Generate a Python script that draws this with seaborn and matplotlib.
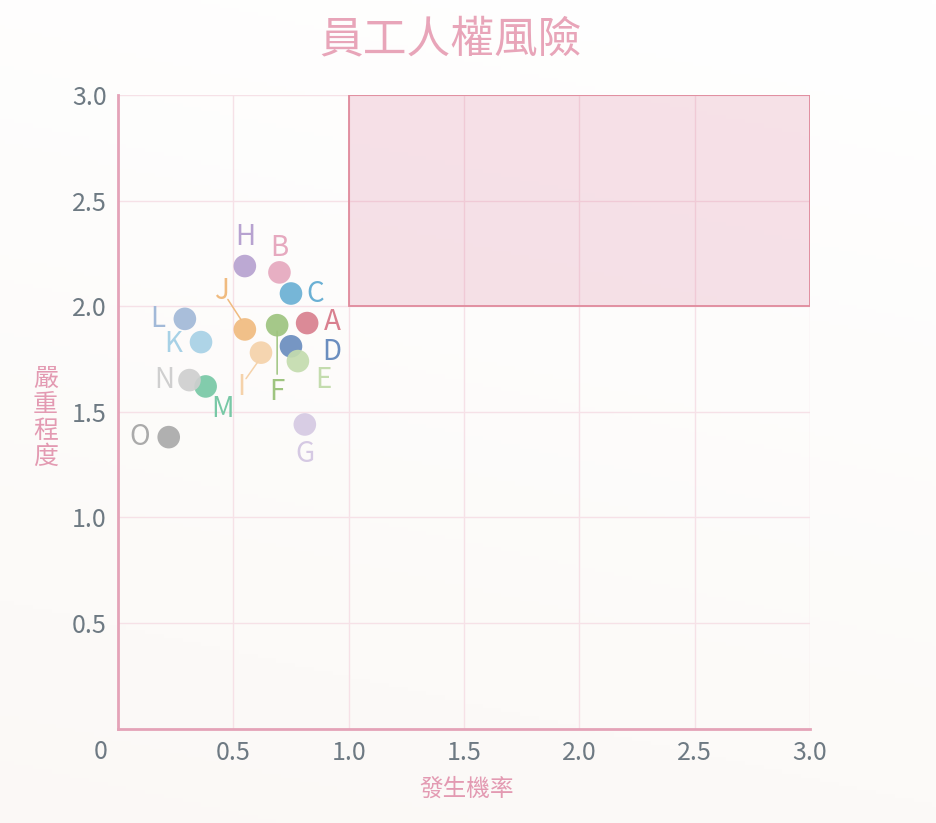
import matplotlib
matplotlib.use("Agg")
import matplotlib.pyplot as plt
import matplotlib.patches as mpatches
import matplotlib.transforms as mtransforms
import numpy as np
import pandas as pd
import seaborn as sns

# data
names = ["A", "B", "C", "D", "E", "F", "G", "H", "I", "J", "K", "L", "M", "N", "O"]
prob = [0.82, 0.70, 0.75, 0.75, 0.78, 0.69, 0.81, 0.55, 0.62, 0.55, 0.36, 0.29, 0.38, 0.31, 0.22]
severity = [1.92, 2.16, 2.06, 1.81, 1.74, 1.91, 1.44, 2.19, 1.78, 1.89, 1.83, 1.94, 1.62, 1.65, 1.38]
colors = ["#d9808f", "#e6a9bf", "#6ab0d4", "#6b8ebf", "#c4dcae", "#9ec47f", "#d5c9e3", "#b7a2d0",
          "#f5d2aa", "#f0bb80", "#a7d1e6", "#a2b9d8", "#78c8a6", "#cfcfcf", "#aaaaaa"]
# label offsets in pixels (dx, dy)
label_dx = [25, 0, 24, 41, 25, 0, 0, 0, -20, -23, -28, -27, 17, -25, -29]
label_dy = [1, 24, 0, -6, -19, -67, -30, 29, -34, 38, -2, 0, -23, 0, 0]
# leader lines: name -> (start dx, start dy, end dx, end dy) in pixels from the point
leaders = {"F": (0, -6, 0, -49), "I": (-3, -9, -15, -26), "J": (-4, 10, -17, 30)}

x_ticks = [0.5, 1.0, 1.5, 2.0, 2.5, 3.0]
y_ticks = [0.5, 1.0, 1.5, 2.0, 2.5, 3.0]
zone_x = (1.0, 3.0)
zone_y = (2.0, 3.0)

title = "員工人權風險"
xlabel = "發生機率"
ylabel = "嚴\n重\n程\n度"

df = pd.DataFrame({"name": names, "prob": prob, "severity": severity})

sns.set_theme(style="white")
plt.rcParams["font.family"] = ["Noto Sans CJK TC", "DejaVu Sans"]

pink = "#e4a3b8"
grid_c = "#f6e1e7"
tick_c = "#6e7a83"

fig = plt.figure(figsize=(9.37, 8.23), dpi=100)

# soft background wash
bg = fig.add_axes([0, 0, 1, 1], zorder=-5)
yy, xx = np.mgrid[0:1:200j, 0:1:200j]
wash = np.clip(yy * 0.8 + (1 - xx) * 0.2, 0, 1)
c_top = np.array([1.0, 1.0, 1.0])
c_bot = np.array([0.985, 0.975, 0.965])
img = c_top[None, None, :] * (1 - wash[..., None]) + c_bot[None, None, :] * wash[..., None]
bg.imshow(img, aspect="auto", extent=[0, 1, 0, 1], origin="upper")
bg.axis("off")

ax = fig.add_axes([0.1259, 0.1147, 0.7386, 0.7699])
ax.set_facecolor("none")

ax.add_patch(mpatches.Rectangle((zone_x[0], zone_y[0]), zone_x[1] - zone_x[0], zone_y[1] - zone_y[0],
                                facecolor="#d87093", alpha=0.2, edgecolor="none", zorder=1))
ax.add_patch(mpatches.Rectangle((zone_x[0], zone_y[0]), zone_x[1] - zone_x[0], zone_y[1] - zone_y[0],
                                facecolor="none", edgecolor="#e08a9c", lw=1.3, zorder=2))

sns.scatterplot(data=df, x="prob", y="severity", hue="name", palette=dict(zip(names, colors)),
                s=265, alpha=0.92, edgecolor="none", legend=False, ax=ax, zorder=4)

for i, n in enumerate(names):
    ax.annotate(n, xy=(prob[i], severity[i]), xytext=(label_dx[i], label_dy[i]),
                textcoords="offset pixels", ha="center", va="center",
                fontsize=20, color=colors[i], fontweight="light", zorder=3)
    if n in leaders:
        sx, sy, ex, ey = leaders[n]
        t0 = mtransforms.offset_copy(ax.transData, fig=fig, x=sx, y=sy, units="dots")
        t1 = mtransforms.offset_copy(ax.transData, fig=fig, x=ex, y=ey, units="dots")
        ax.annotate("", xy=(prob[i], severity[i]), xycoords=t0,
                    xytext=(prob[i], severity[i]), textcoords=t1,
                    arrowprops=dict(arrowstyle="-", color=colors[i], lw=1.1,
                                    shrinkA=0, shrinkB=0), zorder=5)

ax.set_xlim(0, 3.0)
ax.set_ylim(0, 3.0)
ax.set_xticks(x_ticks)
ax.set_yticks(y_ticks)
ax.set_xticklabels([f"{v:.1f}" for v in x_ticks])
ax.set_yticklabels([f"{v:.1f}" for v in y_ticks])
ax.tick_params(axis="both", length=0, labelsize=18, labelcolor=tick_c)
ax.tick_params(axis="x", pad=8)
ax.tick_params(axis="y", pad=8)
ax.annotate("0", xy=(0, 0), xytext=(-17, -23), textcoords="offset pixels",
            ha="center", va="center", fontsize=18, color=tick_c, annotation_clip=False)

ax.grid(True, color=grid_c, lw=1.0)
ax.set_axisbelow(True)
for s in ["top", "right"]:
    ax.spines[s].set_visible(False)
for s in ["left", "bottom"]:
    ax.spines[s].set_color(pink)
    ax.spines[s].set_linewidth(2.0)
    ax.spines[s].set_zorder(5)

ax.set_xlabel(xlabel, fontsize=17, color="#e39ab2")
ax.xaxis.set_label_coords(0.504, -0.078)
ax.set_ylabel(ylabel, fontsize=18, color="#e39ab2", rotation=0, linespacing=1.0, va="center", ha="center")
ax.yaxis.set_label_coords(-0.105, 0.49)

ax.text(0.481, 1.087, title, transform=ax.transAxes, ha="center", va="center",
        fontsize=31.5, color="#e8a5b9")

fig.savefig("out.png", dpi=100)
